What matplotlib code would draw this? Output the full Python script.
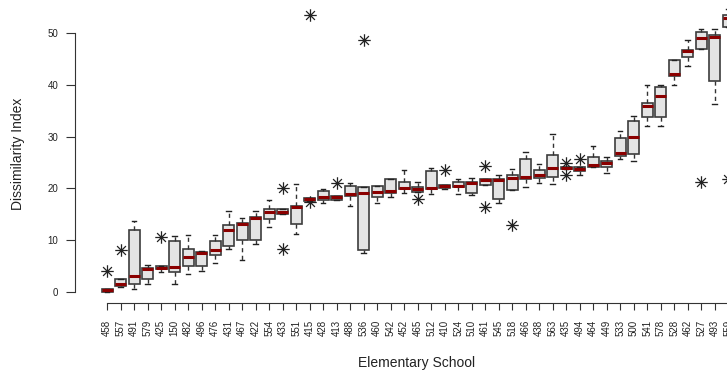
import matplotlib
matplotlib.use("Agg")
import matplotlib.pyplot as plt
from matplotlib.path import Path

plt.rcParams['font.family'] = ['Liberation Sans', 'DejaVu Sans']

# schools sorted by median dissimilarity index
schools = ["458", "557", "491", "579", "425", "150", "482", "496", "476", "431",
           "467", "422", "554", "433", "551", "415", "428", "413", "488", "536",
           "460", "542", "452", "465", "512", "410", "524", "510", "461", "545",
           "518", "466", "438", "563", "435", "494", "464", "449", "533", "500",
           "541", "578", "528", "462", "527", "493", "559"]

whislo = [0.0, 1.0, 0.6, 1.5, 3.9, 1.6, 3.5, 4.05, 5.6, 8.4,
          6.2, 9.2, 12.6, 15.0, 11.2, 17.5, 17.1, 17.8, 16.7, 7.5,
          17.1, 18.3, 19.05, 19.4, 18.9, 19.8, 19.0, 18.7, 20.7, 17.1,
          19.7, 20.2, 21.1, 20.9, 23.7, 22.5, 24.2, 22.9, 25.6, 25.3,
          32.1, 32.1, 40.0, 43.6, 47.0, 36.3, 51.2]
q1 = [0.1, 1.15, 1.5, 2.6, 4.5, 3.8, 5.1, 5.1, 7.1, 8.9,
      10.0, 10.0, 14.1, 15.0, 13.1, 17.6, 17.8, 17.8, 18.5, 8.2,
      18.4, 19.2, 19.8, 19.4, 19.8, 20.0, 20.2, 19.05, 20.7, 18.0,
      19.7, 21.9, 22.1, 22.3, 23.7, 23.4, 24.2, 24.1, 26.3, 26.6,
      33.7, 33.7, 41.7, 45.3, 47.0, 40.7, 51.2]
med = [0.3, 1.5, 3.0, 4.4, 4.7, 4.8, 6.7, 7.6, 8.2, 11.9,
       13.1, 14.3, 15.4, 15.4, 16.5, 17.9, 18.3, 18.3, 18.9, 19.2,
       19.4, 19.5, 20.0, 19.9, 20.1, 20.5, 20.5, 21.0, 21.6, 21.6,
       22.1, 22.3, 22.5, 24.0, 24.0, 23.7, 24.5, 25.0, 26.8, 29.9,
       35.9, 37.9, 42.0, 46.5, 49.0, 49.2, 52.9]
q3 = [0.5, 2.6, 12.0, 4.7, 5.1, 9.8, 8.4, 7.7, 9.9, 12.9,
      13.3, 14.5, 16.1, 16.1, 16.7, 18.1, 19.5, 18.6, 20.5, 20.3,
      20.5, 21.8, 21.3, 20.2, 23.4, 20.7, 21.3, 21.3, 21.9, 21.75,
      22.5, 25.6, 23.6, 26.4, 24.2, 24.1, 26.1, 25.3, 29.7, 33.1,
      36.5, 39.6, 44.7, 46.7, 50.1, 49.7, 53.5]
whishi = [0.5, 2.6, 13.8, 5.15, 5.1, 10.8, 11.0, 7.9, 11.0, 15.6,
          14.2, 15.7, 17.8, 16.1, 20.8, 18.1, 19.8, 18.6, 21.0, 20.3,
          20.5, 21.8, 23.6, 21.3, 23.9, 20.7, 21.9, 22.1, 21.9, 22.6,
          23.7, 27.1, 24.7, 30.5, 24.2, 24.1, 28.2, 26.1, 31.1, 34.0,
          40.0, 40.0, 44.7, 48.6, 50.7, 50.7, 54.6]
fliers = [[4.05], [8.2], [], [], [10.6], [], [], [], [], [],
          [], [], [], [20.0, 8.4], [], [53.4, 17.3], [], [21.1], [], [48.6],
          [], [], [], [18.0], [], [23.6], [], [], [24.4, 16.5], [],
          [12.9], [], [], [], [25.0, 22.5], [25.6], [], [], [], [],
          [], [], [], [], [21.3], [], [21.9]]

stats = []
for i in range(len(schools)):
    stats.append({"label": schools[i], "whislo": whislo[i], "q1": q1[i],
                  "med": med[i], "q3": q3[i], "whishi": whishi[i],
                  "fliers": fliers[i]})

# R style asterisk (pch = 8)
d = 0.7071
star = Path([(-1, 0), (1, 0), (0, -1), (0, 1), (-d, -d), (d, d), (-d, d), (d, -d)],
            [Path.MOVETO, Path.LINETO] * 4)

fig = plt.figure(figsize=(7.27, 3.75), dpi=100)
# plot region runs past the right edge, like the cropped original
xmin, xmax = -2.38, 48.5
ax = fig.add_axes([75 / 727, 72 / 375, (xmax - xmin) * 13.5 / 727, 305 / 375])

ax.bxp(stats, positions=range(len(schools)), widths=0.8, capwidths=0.32,
       patch_artist=True,
       boxprops=dict(facecolor="#e4e4e4", edgecolor="#3c3c3c", linewidth=1.2),
       medianprops=dict(color="#8b0000", linewidth=2.2, solid_capstyle="butt"),
       whiskerprops=dict(color="#333333", linewidth=1.0, linestyle=(0, (3, 2.5))),
       capprops=dict(color="#222222", linewidth=1.0),
       flierprops=dict(marker=star, markersize=9, markerfacecolor="none",
                       markeredgecolor="#222222", markeredgewidth=0.9,
                       linestyle="none"))

ax.set_xlim(xmin, xmax)
ax.set_ylim(-2.12, 56.76)
ax.set_yticks([0, 10, 20, 30, 40, 50])
ax.set_xticks(range(len(schools)))
ax.set_xticklabels(schools)

for s in ["top", "right"]:
    ax.spines[s].set_visible(False)
ax.spines["left"].set_bounds(0, 50)
ax.spines["bottom"].set_bounds(0, len(schools) - 1)
ax.spines["left"].set_color("#333333")
ax.spines["bottom"].set_color("#333333")

ax.tick_params(axis="y", length=6.5, width=0.8, labelsize=7, pad=5.5,
               colors="#333333", labelcolor="#222222")
ax.tick_params(axis="x", length=5, width=0.8, labelsize=7, pad=7,
               labelrotation=90, colors="#333333", labelcolor="#222222")

fig.text(417 / 727, 1 - 363 / 375, "Elementary School", ha="center", va="center",
         fontsize=10, color="#222222")
fig.text(18 / 727, 1 - 154 / 375, "Dissimilarity Index", ha="center", va="center",
         rotation=90, fontsize=10, color="#222222")

fig.savefig("out.png", dpi=100)
